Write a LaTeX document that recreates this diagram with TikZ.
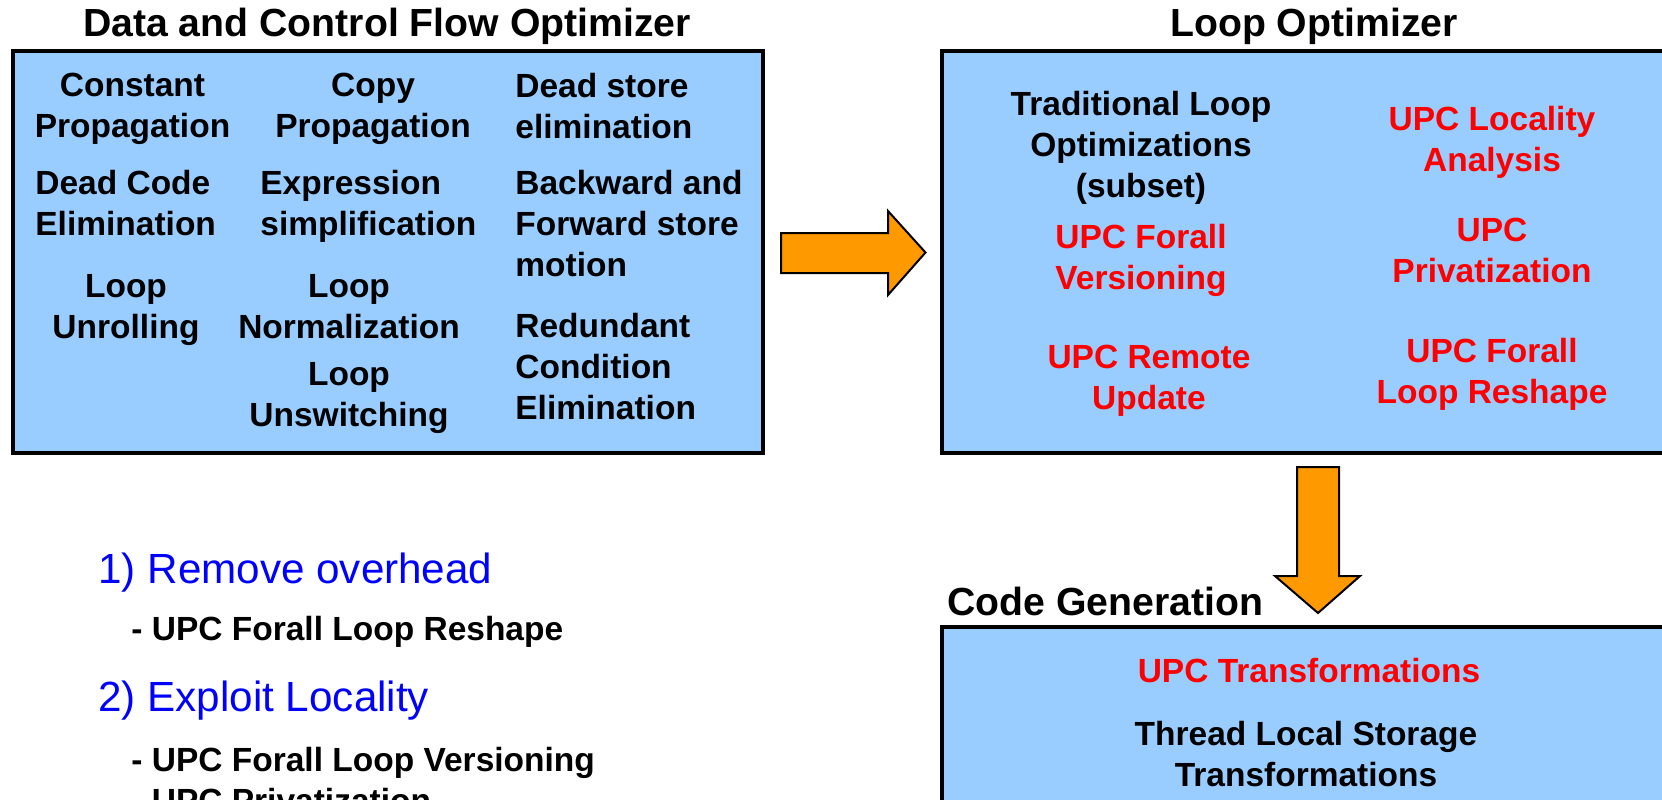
\documentclass[tikz,border=0pt]{standalone}
\usepackage{fontspec}
\setmainfont{Liberation Sans}
\definecolor{boxblue}{HTML}{99CCFF}
\definecolor{arroworange}{HTML}{FF9900}
\definecolor{upcred}{HTML}{FF0000}
\definecolor{listblue}{HTML}{0000FF}
\tikzset{
  panel/.style={draw=black, line width=2pt, fill=boxblue},
  blockarrow/.style={draw=black, line width=1pt, fill=arroworange, line join=miter},
  item/.style={font=\fontsize{16.75}{20.5}\selectfont\bfseries, inner sep=0pt, align=center, anchor=north},
  litem/.style={item, align=left, anchor=north west},
  upc/.style={item, text=upcred},
  paneltitle/.style={font=\fontsize{19.6}{23}\selectfont\bfseries, inner sep=0pt, anchor=base},
  goal/.style={font=\fontsize{21.1}{25}\selectfont, text=listblue, inner sep=0pt, anchor=base west},
  subgoal/.style={font=\fontsize{16.75}{20.5}\selectfont\bfseries, inner sep=0pt, anchor=base west},
}
\begin{document}
\begin{tikzpicture}[x=0.5pt, y=-0.5pt]
\useasboundingbox (0,0) rectangle (1662,799);
\fill[white] (0,0) rectangle (1662,799);

% panels
\draw[panel] (13,51) rectangle (763,453);
\draw[panel] (942,51) rectangle (1690,453);
\draw[panel] (942,627) rectangle (1690,840);

% titles
\node[paneltitle] (t1) at (387,36) {Data and Control Flow Optimizer};
\node[paneltitle] (t2) at (1314,36) {Loop Optimizer};
\node[paneltitle, anchor=base west] (t3) at (947,615) {Code Generation};

% block arrows
\draw[blockarrow] (781,233) -- (888,233) -- (888,211) -- (925.5,252.5) -- (888,295) -- (888,273) -- (781,273) -- cycle;
\draw[blockarrow] (1297,467) -- (1339,467) -- (1339,576) -- (1360,576) -- (1318,613) -- (1275,576) -- (1297,576) -- cycle;

% data and control flow optimizer
\node[item] (cp) at (132.5,72.6) {Constant\\Propagation};
\node[litem] (dce) at (35,169.6) {Dead Code\\Elimination};
\node[item] (lu) at (126,273.6) {Loop\\Unrolling};
\node[item] (copy) at (373,72.6) {Copy\\Propagation};
\node[litem] (expr) at (260,169.6) {Expression\\simplification};
\node[item] (ln) at (349,273.6) {Loop\\Normalization};
\node[item] (lus) at (349,361.6) {Loop\\Unswitching};
\node[litem] (dse) at (515,72.6) {Dead store\\elimination};
\node[litem] (bfs) at (515,169.6) {Backward and\\Forward store\\motion};
\node[litem] (rce) at (515,312.6) {Redundant\\Condition\\Elimination};

% loop optimizer
\node[item] (tlo) at (1141,90.6) {Traditional Loop\\Optimizations\\(subset)};
\node[upc] (ufv) at (1141,223.6) {UPC Forall\\Versioning};
\node[upc] (ur) at (1149,344.6) {UPC Remote\\Update};
\node[upc] (ula) at (1492,105.6) {UPC Locality\\Analysis};
\node[upc] (up) at (1492,217.6) {UPC\\Privatization};
\node[upc] (uflr) at (1492,337.6) {UPC Forall\\Loop Reshape};

% code generation
\node[upc] (ut) at (1309,657.6) {UPC Transformations};
\node[item] (tls) at (1306,720.6) {Thread Local Storage\\Transformations};

% goals list
\node[goal] (g1) at (98,583) {1) Remove overhead};
\node[subgoal] (g1a) at (131,640) {- UPC Forall Loop Reshape};
\node[goal] (g2) at (98,711) {2) Exploit Locality};
\node[subgoal] (g2a) at (131,771) {- UPC Forall Loop Versioning};
\node[subgoal] (g2b) at (131,812) {- UPC Privatization};
\end{tikzpicture}
\end{document}
